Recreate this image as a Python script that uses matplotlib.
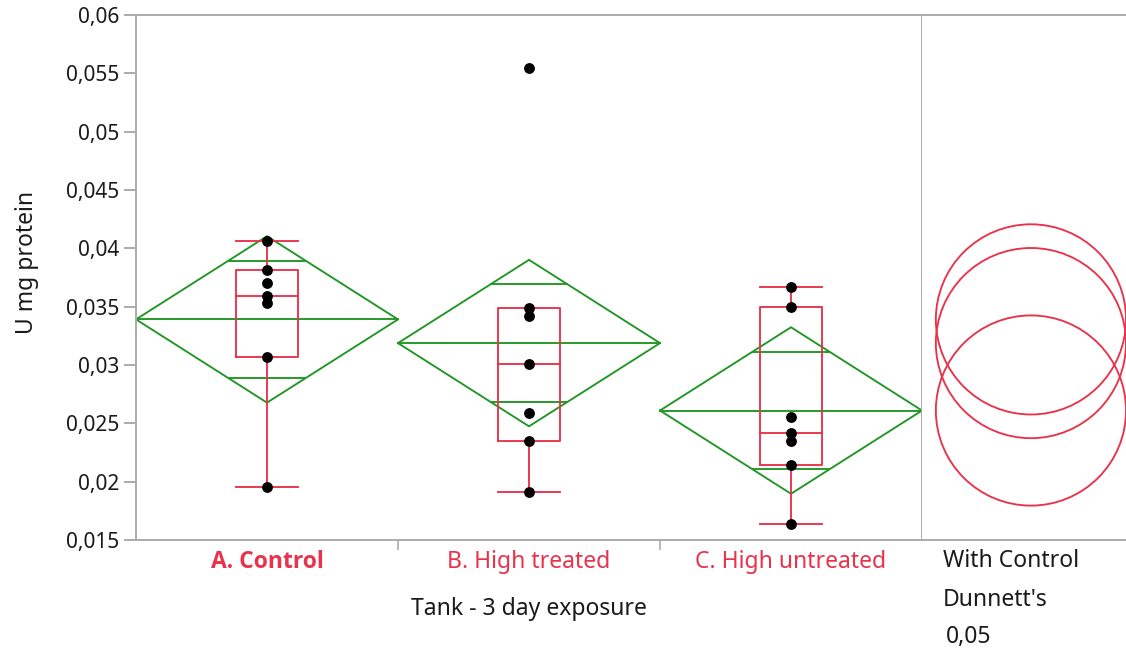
import numpy as np
import matplotlib
matplotlib.use("Agg")
import matplotlib.pyplot as plt
from matplotlib.patches import Ellipse
from matplotlib.ticker import FuncFormatter
from matplotlib import font_manager

plt.rcParams["font.family"] = ["Noto Sans", "DejaVu Sans"]

# Enzyme activity (U mg protein) per tank group, 3 day exposure
group_labels = ["A. Control", "B. High treated", "C. High untreated"]
control_vals = [0.04063, 0.03814, 0.03705, 0.03594, 0.03534, 0.03069, 0.01957]
high_treated_vals = [0.05543, 0.03486, 0.03420, 0.03009, 0.02591, 0.02351, 0.01914]
high_untreated_vals = [0.03671, 0.03495, 0.02557, 0.02415, 0.02351, 0.02143, 0.01637]
y_ticks = [0.015, 0.02, 0.025, 0.03, 0.035, 0.04, 0.045, 0.05, 0.055, 0.06]

groups = [np.array(control_vals), np.array(high_treated_vals), np.array(high_untreated_vals)]

T_CRIT = 2.101        # t(0.975, df=18)
DUNNETT_CRIT = 2.40   # Dunnett's two-sided, 2 comparisons, df=18, alpha=0.05

RED = "#E8334A"
GREEN = "#1F9624"
GRAY = "#ABABAB"
TEXT = "#1A1A1A"
LW = 1.35
FS = 16.5


def jmp_quantile(v, p):
    s = np.sort(v)
    n = len(s)
    pos = p * (n + 1)
    lo = int(np.floor(pos))
    frac = pos - lo
    lo = min(max(lo, 1), n)
    hi = min(lo + 1, n)
    return s[lo - 1] + frac * (s[hi - 1] - s[lo - 1])


# pick a family that really has a bold face for the control label
bold_family = "Noto Sans"
try:
    fp = font_manager.findfont(font_manager.FontProperties(family="Noto Sans", weight="bold"),
                               fallback_to_default=False)
    if "bold" not in fp.lower():
        bold_family = "Open Sans"
except Exception:
    bold_family = "Open Sans"

# pooled standard error
ns = np.array([len(g) for g in groups])
means = np.array([g.mean() for g in groups])
sse = sum(((g - g.mean()) ** 2).sum() for g in groups)
dfe = ns.sum() - len(groups)
rmse = np.sqrt(sse / dfe)
se = rmse / np.sqrt(ns)

fig = plt.figure(figsize=(11.26, 6.54), dpi=100)
W, H = 1126, 654
ax_left, ax_right, ax_top, ax_bot = 136, 922, 15, 540
ax = fig.add_axes([ax_left / W, 1 - ax_bot / H, (ax_right - ax_left) / W, (ax_bot - ax_top) / H])
axd = fig.add_axes([ax_right / W, 1 - ax_bot / H, (W - ax_right) / W, (ax_bot - ax_top) / H])

ymin, ymax = 0.015, 0.06
edges = np.concatenate([[0], np.cumsum(ns)]).astype(float)
ax.set_xlim(edges[0], edges[-1])
ax.set_ylim(ymin, ymax)

for i, g in enumerate(groups):
    x0, x1 = edges[i], edges[i + 1]
    xc = (x0 + x1) / 2
    half_w = (x1 - x0) / 2
    m = means[i]
    ci = T_CRIT * se[i]
    ov = ci * np.sqrt(2) / 2

    # means diamond
    ax.plot([x0, xc, x1, xc, x0], [m, m + ci, m, m - ci, m], color=GREEN, lw=LW, zorder=2)
    ax.plot([x0, x1], [m, m], color=GREEN, lw=LW, zorder=2)
    ow = half_w * (1 - ov / ci)
    for yy in (m + ov, m - ov):
        ax.plot([xc - ow, xc + ow], [yy, yy], color=GREEN, lw=LW, zorder=2)

    # outlier box plot
    q1 = jmp_quantile(g, 0.25)
    q2 = jmp_quantile(g, 0.5)
    q3 = jmp_quantile(g, 0.75)
    iqr = q3 - q1
    upper = g[g <= q3 + 1.5 * iqr].max()
    lower = g[g >= q1 - 1.5 * iqr].min()
    bw = 0.12 * (x1 - x0)
    ax.plot([xc - bw, xc + bw, xc + bw, xc - bw, xc - bw], [q1, q1, q3, q3, q1],
            color=RED, lw=LW, zorder=3)
    ax.plot([xc - bw, xc + bw], [q2, q2], color=RED, lw=LW, zorder=3)
    if upper > q3:
        ax.plot([xc, xc], [q3, upper], color=RED, lw=LW, zorder=3)
        ax.plot([xc - bw, xc + bw], [upper, upper], color=RED, lw=LW, zorder=3)
    if lower < q1:
        ax.plot([xc, xc], [q1, lower], color=RED, lw=LW, zorder=3)
        ax.plot([xc - bw, xc + bw], [lower, lower], color=RED, lw=LW, zorder=3)

    # raw points
    ax.plot(np.full(len(g), xc), g, "o", color="black", ms=7.8, mec="none", zorder=4)

    # group label under the axis
    if i == 0:
        ax.text(xc, -0.042, group_labels[i], transform=ax.get_xaxis_transform(),
                ha="center", va="center", fontsize=FS, color=RED,
                family=[bold_family, "DejaVu Sans"], fontweight="bold")
    else:
        ax.text(xc, -0.042, group_labels[i], transform=ax.get_xaxis_transform(),
                ha="center", va="center", fontsize=FS, color=RED)

# axes styling
for side in ("left", "top", "bottom", "right"):
    ax.spines[side].set_color(GRAY)
    ax.spines[side].set_linewidth(1.4)
ax.set_yticks(y_ticks)
ax.yaxis.set_major_formatter(FuncFormatter(lambda v, p: f"{v:.3f}".rstrip("0").replace(".", ",")))
ax.tick_params(axis="y", length=9, width=1.4, color=GRAY, labelsize=15, labelcolor=TEXT, pad=3)

ax.set_xticks(edges[1:-1])
ax.set_xticklabels([])
ax.tick_params(axis="x", length=7, width=1.2, color=GRAY)

ax.set_ylabel("U mg protein", fontsize=FS, color=TEXT)
ax.yaxis.set_label_coords(-0.124, 0.528)
ax.text((edges[0] + edges[-1]) / 2, -0.131, "Tank - 3 day exposure",
        transform=ax.get_xaxis_transform(), ha="center", va="center", fontsize=FS, color=TEXT)

# Dunnett's comparison circles
axd.set_xlim(0, 1)
axd.set_ylim(ymin, ymax)
px_per_unit = (ax_bot - ax_top) / (ymax - ymin)
dw = W - ax_right
for i in range(len(groups)):
    r = DUNNETT_CRIT * se[i]
    width_frac = 2 * r * px_per_unit / dw
    axd.add_patch(Ellipse((0.534, means[i]), width_frac, 2 * r, fill=False,
                          edgecolor=RED, lw=LW, clip_on=False))
axd.set_xticks([])
axd.set_yticks([])
for side in ("left", "right"):
    axd.spines[side].set_visible(False)
for side in ("top", "bottom"):
    axd.spines[side].set_color(GRAY)
    axd.spines[side].set_linewidth(1.4)

fig.text(943 / W, 1 - 561 / H, "With Control", fontsize=FS, color=TEXT, ha="left", va="center")
fig.text(943 / W, 1 - 600 / H, "Dunnett's", fontsize=FS, color=TEXT, ha="left", va="center")
fig.text(946 / W, 1 - 637 / H, "0,05", fontsize=FS, color=TEXT, ha="left", va="center")

fig.savefig("out.png", dpi=100)
